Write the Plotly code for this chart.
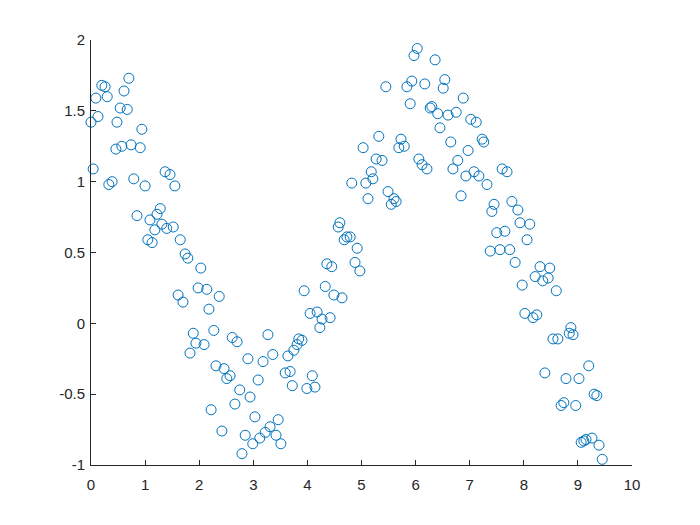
import plotly.graph_objects as go

x_vals = [0.0, 0.04, 0.09, 0.13, 0.2, 0.26, 0.3, 0.33, 0.39, 0.46, 0.48, 0.54, 0.57, 0.61, 0.67, 0.7, 0.74, 0.79, 0.85, 0.91,
          0.94, 1.0, 1.05, 1.09, 1.13, 1.18, 1.22, 1.28, 1.31, 1.37, 1.4, 1.46, 1.52, 1.55, 1.61, 1.65, 1.7, 1.74, 1.79, 1.83,
          1.89, 1.94, 1.98, 2.03, 2.09, 2.14, 2.18, 2.22, 2.27, 2.31, 2.37, 2.42, 2.46, 2.51, 2.57, 2.61, 2.66, 2.7, 2.75, 2.79,
          2.85, 2.9, 2.94, 2.99, 3.03, 3.09, 3.12, 3.18, 3.22, 3.27, 3.31, 3.36, 3.42, 3.46, 3.51, 3.59, 3.64, 3.68, 3.72, 3.75,
          3.81, 3.84, 3.9, 3.94, 3.99, 4.05, 4.09, 4.14, 4.18, 4.23, 4.27, 4.33, 4.36, 4.42, 4.45, 4.49, 4.57, 4.6, 4.64, 4.68,
          4.73, 4.79, 4.82, 4.88, 4.92, 4.97, 5.03, 5.08, 5.12, 5.18, 5.21, 5.27, 5.32, 5.38, 5.45, 5.49, 5.55, 5.6, 5.64, 5.69,
          5.73, 5.79, 5.84, 5.9, 5.93, 5.97, 6.03, 6.06, 6.12, 6.17, 6.21, 6.27, 6.3, 6.36, 6.41, 6.45, 6.51, 6.54, 6.6, 6.65,
          6.69, 6.75, 6.78, 6.84, 6.88, 6.93, 6.97, 7.02, 7.08, 7.12, 7.17, 7.23, 7.26, 7.32, 7.38, 7.41, 7.45, 7.5, 7.56, 7.6,
          7.65, 7.69, 7.74, 7.78, 7.84, 7.89, 7.93, 7.97, 8.02, 8.06, 8.11, 8.17, 8.21, 8.24, 8.3, 8.35, 8.39, 8.45, 8.48, 8.54,
          8.6, 8.63, 8.69, 8.74, 8.78, 8.84, 8.87, 8.91, 8.96, 9.02, 9.06, 9.11, 9.15, 9.2, 9.26, 9.3, 9.35, 9.39, 9.45]

y_vals = [1.42, 1.09, 1.59, 1.46, 1.68, 1.67, 1.6, 0.98, 1.0, 1.23, 1.42, 1.52, 1.25, 1.64, 1.51, 1.73, 1.26, 1.02, 0.76, 1.24,
          1.37, 0.97, 0.59, 0.73, 0.57, 0.66, 0.77, 0.81, 0.7, 1.07, 0.67, 1.05, 0.68, 0.97, 0.2, 0.59, 0.15, 0.49, 0.46, -0.21,
          -0.07, -0.14, 0.25, 0.39, -0.15, 0.24, 0.1, -0.61, -0.05, -0.3, 0.19, -0.76, -0.32, -0.39, -0.37, -0.1, -0.57, -0.13, -0.47, -0.92,
          -0.79, -0.25, -0.52, -0.85, -0.66, -0.4, -0.81, -0.27, -0.77, -0.08, -0.73, -0.22, -0.79, -0.68, -0.85, -0.35, -0.23, -0.34, -0.44, -0.19,
          -0.15, -0.11, -0.12, 0.23, -0.46, 0.07, -0.37, -0.45, 0.08, -0.03, 0.03, 0.26, 0.42, 0.04, 0.4, 0.2, 0.68, 0.71, 0.18, 0.59,
          0.61, 0.61, 0.99, 0.43, 0.53, 0.37, 1.24, 0.99, 0.88, 1.07, 1.02, 1.16, 1.32, 1.15, 1.67, 0.93, 0.84, 0.88, 0.86, 1.24,
          1.3, 1.25, 1.67, 1.55, 1.71, 1.89, 1.94, 1.16, 1.12, 1.69, 1.09, 1.52, 1.53, 1.86, 1.48, 1.38, 1.66, 1.72, 1.47, 1.28,
          1.09, 1.49, 1.15, 0.9, 1.59, 1.04, 1.22, 1.44, 1.07, 1.42, 1.04, 1.3, 1.28, 0.98, 0.51, 0.79, 0.84, 0.64, 0.52, 1.09,
          0.65, 1.07, 0.52, 0.86, 0.43, 0.8, 0.71, 0.27, 0.07, 0.59, 0.7, 0.04, 0.33, 0.06, 0.4, 0.3, -0.35, 0.32, 0.39, -0.11,
          0.23, -0.11, -0.58, -0.56, -0.39, -0.07, -0.03, -0.08, -0.58, -0.39, -0.84, -0.83, -0.82, -0.3, -0.81, -0.5, -0.51, -0.86, -0.96]

x_ticks = [0, 1, 2, 3, 4, 5, 6, 7, 8, 9, 10]
x_tick_labels = ["0", "1", "2", "3", "4", "5", "6", "7", "8", "9", "10"]
y_ticks = [-1, -0.5, 0, 0.5, 1, 1.5, 2]
y_tick_labels = ["-1", "-0.5", "0", "0.5", "1", "1.5", "2"]

fig = go.Figure()
fig.add_trace(go.Scatter(
    x=x_vals, y=y_vals, mode="markers",
    marker=dict(symbol="circle-open", size=10, color="#0072BD", line=dict(width=1, color="#0072BD")),
    cliponaxis=False, showlegend=False,
))

axis_common = dict(
    showgrid=False, zeroline=False, showline=True, linecolor="#262626", linewidth=1,
    ticks="inside", ticklen=5, tickwidth=1, tickcolor="#262626",
    tickfont=dict(family="Liberation Sans, Arial, sans-serif", size=15, color="#262626"),
    mirror=False,
)

fig.update_layout(
    width=700, height=525,
    margin=dict(l=83, r=76, t=32, b=68),
    paper_bgcolor="white", plot_bgcolor="white",
    xaxis=dict(range=[0, 10], tickvals=x_ticks, ticktext=x_tick_labels, ticklabelstandoff=6, **axis_common),
    yaxis=dict(range=[-1, 2], tickvals=y_ticks, ticktext=y_tick_labels, ticklabelstandoff=2, **axis_common),
)

fig.write_html("out.html", config={"displayModeBar": False})
